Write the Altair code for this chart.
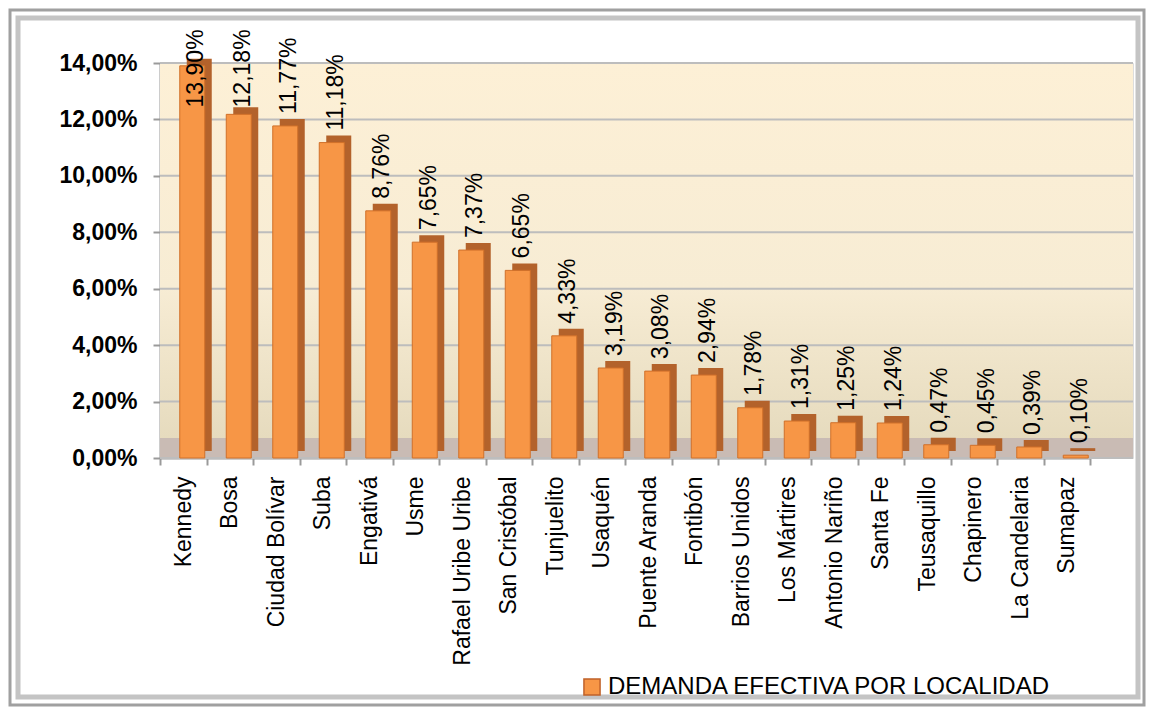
import altair as alt
import pandas as pd

categorias = ["Kennedy", "Bosa", "Ciudad Bolívar", "Suba", "Engativá", "Usme",
              "Rafael Uribe Uribe", "San Cristóbal", "Tunjuelito", "Usaquén",
              "Puente Aranda", "Fontibón", "Barrios Unidos", "Los Mártires",
              "Antonio Nariño", "Santa Fe", "Teusaquillo", "Chapinero",
              "La Candelaria", "Sumapaz"]
valores = [13.90, 12.18, 11.77, 11.18, 8.76, 7.65, 7.37, 6.65, 4.33, 3.19,
           3.08, 2.94, 1.78, 1.31, 1.25, 1.24, 0.47, 0.45, 0.39, 0.10]
serie = "DEMANDA EFECTIVA POR LOCALIDAD"
ticks_y = [0, 0.02, 0.04, 0.06, 0.08, 0.10, 0.12, 0.14]

W, H = 973, 395
FONT = "Liberation Sans"

df = pd.DataFrame({"loc": categorias, "v": [x / 100 for x in valores], "serie": serie})
one = pd.DataFrame({"a": [0]})
grid_df = pd.DataFrame({"t": ticks_y})

xs = alt.Scale(domain=categorias, range=[0, 930], paddingInner=0, paddingOuter=0)
ys = alt.Scale(domain=[0, 0.14], nice=False, zero=True)

# decorative frame
frame_outer = alt.Chart(one).mark_rect(fillOpacity=0, stroke="#A0A0A0", strokeWidth=3).encode(
    x=alt.value(-150), x2=alt.value(984), y=alt.value(-53), y2=alt.value(642))
frame_inner = alt.Chart(one).mark_rect(fillOpacity=0, stroke="#C4C4C4", strokeWidth=5).encode(
    x=alt.value(-142), x2=alt.value(978), y=alt.value(-45), y2=alt.value(634))

wall = alt.Chart(one).mark_rect(
    fill=alt.Gradient(gradient="linear",
                      stops=[alt.GradientStop(color="#FDF0D6", offset=0),
                             alt.GradientStop(color="#F7ECD4", offset=0.6),
                             alt.GradientStop(color="#E6DBBE", offset=1)],
                      x1=0, x2=0, y1=0, y2=1)
).encode(x=alt.value(0), x2=alt.value(W), y=alt.value(0), y2=alt.value(H - 20))

floor = alt.Chart(one).mark_rect(fill="#C9BBB4").encode(
    x=alt.value(0), x2=alt.value(W), y=alt.value(H - 20), y2=alt.value(H))

grid = alt.Chart(grid_df).mark_rule(color="#BDBDBD", strokeWidth=2).encode(
    y=alt.Y("t:Q", scale=ys), x=alt.value(0), x2=alt.value(W))

base = alt.Chart(df)

side = base.mark_bar(size=25, color="#B3622B", xOffset=16, yOffset=-7, y2Offset=-7).encode(
    x=alt.X("loc:N", scale=xs, sort=categorias, title=None),
    y=alt.Y("v:Q", scale=ys),
)

front = base.mark_bar(size=25, stroke="#D0702A", strokeWidth=1, xOffset=9).encode(
    x=alt.X("loc:N", scale=xs, sort=categorias, title=None,
            axis=alt.Axis(labelAngle=270, labelFont=FONT, labelFontSize=23,
                          labelColor="black", labelPadding=11, tickSize=7,
                          tickBand="extent", domainColor="#9A9A9A", tickColor="#9A9A9A",
                          domainWidth=2, tickWidth=2, grid=False, labelLimit=300)),
    y=alt.Y("v:Q", scale=ys, title=None,
            axis=alt.Axis(values=ticks_y, labelExpr="replace(format(datum.value, '.2%'), '.', ',')",
                          labelFont=FONT, labelFontSize=23, labelFontWeight="bold",
                          labelColor="black", tickSize=7, labelPadding=16,
                          domainColor="#9A9A9A", tickColor="#9A9A9A", domainWidth=2,
                          tickWidth=2, grid=False)),
    color=alt.Color("serie:N", scale=alt.Scale(range=["#F79646"]),
                    legend=alt.Legend(title=None, orient="none", legendX=420, legendY=612,
                                      symbolType="square", symbolSize=260,
                                      symbolStrokeColor="#C0622A", symbolStrokeWidth=1.5,
                                      labelFont=FONT, labelFontSize=24, labelColor="black",
                                      labelLimit=600)),
)

labels = base.transform_calculate(
    lab="replace(format(datum.v, '.2%'), '.', ',')",
    ly="min(datum.v, 0.12)",
).mark_text(angle=270, align="left", baseline="middle", dx=12, xOffset=13,
            font=FONT, fontSize=23, color="black").encode(
    x=alt.X("loc:N", scale=xs, sort=categorias),
    y=alt.Y("ly:Q", scale=ys),
    text="lab:N",
)

chart = alt.layer(frame_outer, frame_inner, wall, floor, grid, side, front, labels).properties(
    width=W, height=H, padding=0
).configure_view(stroke=None).configure(background="white")

chart.save("out.html", embed_options={"renderer": "svg", "actions": False})
